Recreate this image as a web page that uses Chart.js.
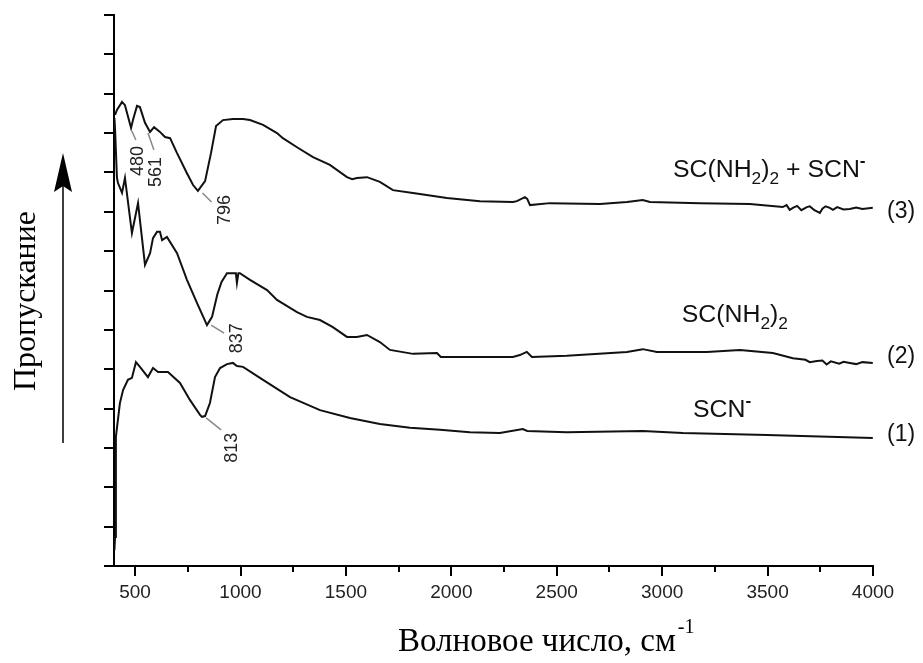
<!DOCTYPE html>
<html>
<head>
<meta charset="utf-8">
<script src="https://cdn.jsdelivr.net/npm/chart.js@4.4.0/dist/chart.umd.min.js"></script>
<style>
html, body { margin: 0; padding: 0; background: #fff; }
</style>
</head>
<body>
<canvas id="ir" width="923" height="663"></canvas>
<script>
// (1) SCN-
const wn1 = [402,405,409,428,443,466,485,504,523,561,585,609,656,713,760,808,817,832,855,879,903,936,964,983,1012,1107,1235,1377,1519,1661,1804,1946,2088,2230,2339,2360,2548,2908,3098,3497,3999];
const tr1 = [0.40,0.74,3.28,4.14,4.47,4.73,4.78,5.18,5.06,4.80,5.03,4.93,4.93,4.65,4.22,3.84,3.79,3.81,4.14,4.80,5.03,5.13,5.16,5.08,5.06,4.73,4.29,3.96,3.76,3.61,3.51,3.46,3.40,3.38,3.48,3.43,3.40,3.43,3.38,3.33,3.25];

// (2) SC(NH2)2
const wn2 = [402,405,414,419,438,452,485,514,547,571,585,604,618,628,651,699,746,794,841,865,890,910,936,964,978,983,990,997,1045,1126,1173,1268,1315,1377,1438,1505,1552,1600,1661,1709,1818,1932,1950,2055,2169,2292,2325,2358,2382,2548,2833,2908,2975,3051,3212,3369,3525,3620,3680,3700,3734,3760,3780,3800,3840,3860,3890,3920,3950,3999];
const tr2 = [11.38,11.10,9.86,9.73,9.48,9.86,8.46,9.22,7.65,7.95,8.33,8.49,8.49,8.28,8.36,7.95,7.27,6.68,6.12,6.33,6.90,7.22,7.44,7.44,7.44,7.19,7.44,7.44,7.27,7.01,6.76,6.45,6.33,6.25,6.07,5.82,5.82,5.87,5.69,5.49,5.39,5.41,5.31,5.31,5.31,5.31,5.36,5.44,5.31,5.34,5.44,5.51,5.44,5.44,5.44,5.49,5.41,5.28,5.24,5.18,5.21,5.22,5.12,5.20,5.14,5.19,5.16,5.13,5.18,5.16];

// (3) SC(NH2)2 + SCN-
const wn3 = [405,414,438,452,481,490,509,523,547,571,590,618,642,666,699,746,775,798,832,860,884,917,964,1012,1045,1107,1173,1201,1268,1344,1424,1505,1530,1552,1600,1661,1723,1818,1979,2136,2292,2311,2349,2360,2373,2467,2705,2833,2908,2942,3179,3416,3572,3590,3605,3620,3640,3660,3686,3700,3720,3748,3760,3775,3795,3810,3830,3860,3890,3920,3950,3999];
const tr3 = [11.46,11.59,11.79,11.71,11.13,11.33,11.69,11.66,11.26,11.03,11.15,11.03,10.90,10.87,10.49,9.98,9.68,9.53,9.78,10.49,11.18,11.33,11.36,11.36,11.33,11.21,11.00,10.87,10.64,10.39,10.19,9.88,9.83,9.86,9.88,9.76,9.55,9.48,9.35,9.27,9.25,9.27,9.37,9.33,9.17,9.22,9.20,9.25,9.30,9.25,9.22,9.20,9.12,9.17,9.05,9.10,9.15,9.04,9.12,9.14,9.05,8.97,9.08,9.14,9.10,9.05,9.12,9.06,9.07,9.11,9.07,9.10];

// axis ticks
const xTickVals = [500, 1000, 1500, 2000, 2500, 3000, 3500, 4000];
const xMinorVals = [750, 1250, 1750, 2250, 2750, 3250, 3750];

// peak marks
const peakText = ['480', '561', '796', '837', '813'];
const peakWn = [480, 561, 796, 837, 813];
const peakTr = [11.13, 11.03, 9.53, 6.12, 3.79];

// series labels (text parts: normal / sub / sup)
const curveNames = [
    [['SCN', ''], ['-', 'sup']],
    [['SC(NH', ''], ['2', 'sub'], [')', ''], ['2', 'sub']],
    [['SC(NH', ''], ['2', 'sub'], [')', ''], ['2', 'sub'], [' + SCN', ''], ['-', 'sup']]
];
const curveNums = ['(1)', '(2)', '(3)'];

const toXY = (xs, ys) => xs.map((x, i) => ({ x: x, y: ys[i] }));

// layout of the annotations (pixel offsets from the peak point)
const leaderStart = [[1, 3], [0, 1], [5, 2], [5, 0], [5, 1]];
const leaderEnd = [[5, 12], [6, 18], [14, 11], [18, 8], [20, 13]];
const textOff = [[7, 33], [8, 40], [28, 19], [31, 13], [31, 31]];
const nameAnchor = [[3146, 3.79], [3093, 6.20], [3051, 9.88]];
const numShift = [-3, -6, 4];

const decor = {
    id: 'decor',
    afterDraw(chart) {
        const ctx = chart.ctx;
        const xs = chart.scales.x, ys = chart.scales.y;
        const area = chart.chartArea;
        ctx.save();
        ctx.strokeStyle = '#000';
        ctx.lineWidth = 2;
        // x ticks, major and minor
        xTickVals.concat(xMinorVals).forEach(v => {
            const px = Math.round(xs.getPixelForValue(v));
            const len = v % 500 === 0 ? 10 : 6;
            ctx.beginPath();
            ctx.moveTo(px, area.bottom);
            ctx.lineTo(px, area.bottom + len);
            ctx.stroke();
        });
        // y ticks
        for (let v = 0; v <= 14; v++) {
            const py = Math.round(ys.getPixelForValue(v));
            ctx.beginPath();
            ctx.moveTo(area.left - 10, py);
            ctx.lineTo(area.left, py);
            ctx.stroke();
        }

        // peak labels
        ctx.font = '18px "Liberation Sans", Arial, sans-serif';
        ctx.textAlign = 'center';
        ctx.textBaseline = 'middle';
        peakText.forEach((t, i) => {
            const px = xs.getPixelForValue(peakWn[i]);
            const py = ys.getPixelForValue(peakTr[i]);
            ctx.strokeStyle = '#888';
            ctx.lineWidth = 1.5;
            ctx.beginPath();
            ctx.moveTo(px + leaderStart[i][0], py + leaderStart[i][1]);
            ctx.lineTo(px + leaderEnd[i][0], py + leaderEnd[i][1]);
            ctx.stroke();
            ctx.save();
            ctx.translate(px + textOff[i][0], py + textOff[i][1]);
            ctx.rotate(-Math.PI / 2);
            ctx.fillStyle = '#222';
            ctx.fillText(t, 0, 0);
            ctx.restore();
        });

        // curve names (slightly wide, like the original)
        ctx.fillStyle = '#111';
        ctx.textAlign = 'left';
        ctx.textBaseline = 'alphabetic';
        curveNames.forEach((parts, i) => {
            const x0 = xs.getPixelForValue(nameAnchor[i][0]);
            const y = ys.getPixelForValue(nameAnchor[i][1]);
            ctx.save();
            ctx.translate(x0, y);
            ctx.scale(1.08, 1);
            let x = 0;
            parts.forEach(p => {
                let dy = 0;
                if (p[1] === 'sub') { ctx.font = '16px "Liberation Sans", Arial, sans-serif'; dy = 7; }
                else if (p[1] === 'sup') { ctx.font = 'bold 16px "Liberation Sans", Arial, sans-serif'; dy = -11; }
                else { ctx.font = '23px "Liberation Sans", Arial, sans-serif'; }
                ctx.fillText(p[0], x, dy);
                x += ctx.measureText(p[0]).width;
            });
            ctx.restore();
        });

        // curve numbers at the right
        ctx.font = '23px "Liberation Sans", Arial, sans-serif';
        ctx.textBaseline = 'middle';
        const ends = [tr1[tr1.length - 1], tr2[tr2.length - 1], tr3[tr3.length - 1]];
        curveNums.forEach((t, i) => {
            ctx.fillText(t, area.right + 14, ys.getPixelForValue(ends[i]) + numShift[i]);
        });

        // y title with arrow
        ctx.save();
        ctx.translate(27, 301);
        ctx.rotate(-Math.PI / 2);
        ctx.font = '32px "Liberation Serif", "Times New Roman", serif';
        ctx.textAlign = 'center';
        ctx.fillStyle = '#000';
        ctx.fillText('Пропускание', 0, 0);
        ctx.restore();
        ctx.strokeStyle = '#000';
        ctx.lineWidth = 1.5;
        ctx.beginPath();
        ctx.moveTo(63, 443);
        ctx.lineTo(63, 185);
        ctx.stroke();
        ctx.fillStyle = '#000';
        ctx.beginPath();
        ctx.moveTo(63, 153);
        ctx.lineTo(72, 192);
        ctx.lineTo(63, 186);
        ctx.lineTo(54, 192);
        ctx.closePath();
        ctx.fill();

        // x title
        ctx.font = '33px "Liberation Serif", "Times New Roman", serif';
        ctx.textAlign = 'left';
        ctx.textBaseline = 'alphabetic';
        const xt = 'Волновое число, см';
        ctx.fillText(xt, 398, 651);
        const w = ctx.measureText(xt).width;
        ctx.font = '20px "Liberation Serif", "Times New Roman", serif';
        ctx.fillText('-1', 398 + w + 2, 633);
        ctx.restore();
    }
};

const lineStyle = { borderColor: '#111', borderWidth: 2, pointRadius: 0, tension: 0, fill: false };

new Chart(document.getElementById('ir'), {
    type: 'line',
    data: {
        datasets: [
            Object.assign({ label: 'SCN-', data: toXY(wn1, tr1) }, lineStyle),
            Object.assign({ label: 'SC(NH2)2', data: toXY(wn2, tr2) }, lineStyle),
            Object.assign({ label: 'SC(NH2)2 + SCN-', data: toXY(wn3, tr3) }, lineStyle)
        ]
    },
    options: {
        responsive: false,
        animation: false,
        devicePixelRatio: 1,
        layout: { padding: { left: 0, right: 50, top: 15, bottom: 0 } },
        plugins: { legend: { display: false }, tooltip: { enabled: false } },
        scales: {
            x: {
                type: 'linear',
                min: 400,
                max: 4000,
                grid: { display: false, drawTicks: false, tickLength: 0 },
                border: { display: true, color: '#000', width: 2 },
                afterBuildTicks: s => { s.ticks = xTickVals.map(v => ({ value: v })); },
                ticks: {
                    autoSkip: false,
                    maxRotation: 0,
                    padding: 15,
                    color: '#222',
                    font: { family: '"Liberation Sans", Arial, sans-serif', size: 19 },
                    callback: v => String(v)
                },
                afterFit: s => { s.height = 97; }
            },
            y: {
                min: 0,
                max: 14,
                grid: { display: false, drawTicks: false },
                border: { display: true, color: '#000', width: 2 },
                ticks: { display: false, stepSize: 1 },
                afterFit: s => { s.width = 114; }
            }
        }
    },
    plugins: [decor]
});
</script>
</body>
</html>
